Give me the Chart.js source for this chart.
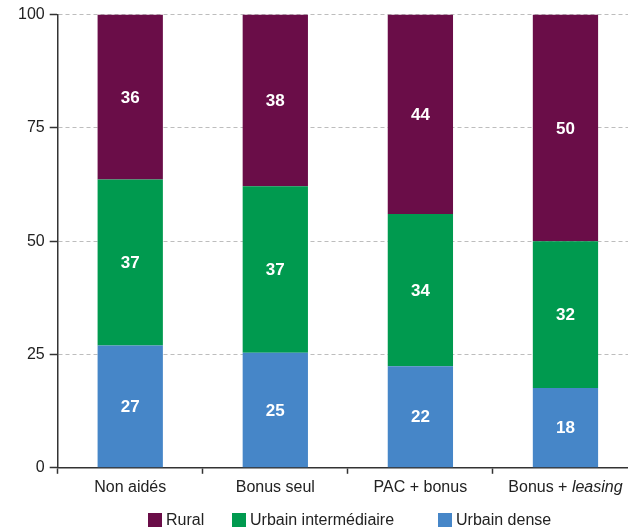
<!DOCTYPE html>
<html>
<head>
<meta charset="utf-8">
<script src="https://cdn.jsdelivr.net/npm/chart.js@4"></script>
<style>
    html, body { margin: 0; padding: 0; background: #fff; overflow: hidden; }
    #wrap { position: relative; width: 628px; height: 531px; overflow: hidden; }
    #chart { position: absolute; left: 0; top: 0; }
    .legend-item { position: absolute; top: 511px; font: 16px "Liberation Sans", Arial, sans-serif; color: #222; white-space: nowrap; line-height: 18px; }
    .legend-item span { display: inline-block; width: 14px; height: 14px; vertical-align: -2px; margin-right: 4px; }
</style>
</head>
<body>
<div id="wrap">
    <canvas id="chart" width="645" height="531"></canvas>
</div>
<script>
const categories = ['Non aidés', 'Bonus seul', 'PAC + bonus', 'Bonus + leasing'];
const italicWords = ['leasing'];
const urbainDense = [27.0, 25.4, 22.4, 17.6];
const urbainInter = [36.6, 36.7, 33.6, 32.4];
const rural = [36.4, 37.9, 44.0, 50.0];
const yTicks = [0, 25, 50, 75, 100];

const FONT = '"Liberation Sans", Arial, sans-serif';
const colors = { rural: '#6a0d48', inter: '#009a4f', dense: '#4686c8' };

// white value labels in the middle of each segment
const barLabels = {
    id: 'barLabels',
    afterDatasetsDraw(chart) {
        const ctx = chart.ctx;
        ctx.save();
        ctx.font = 'bold 17px ' + FONT;
        ctx.fillStyle = '#fff';
        ctx.textAlign = 'center';
        ctx.textBaseline = 'middle';
        chart.data.datasets.forEach((ds, i) => {
            chart.getDatasetMeta(i).data.forEach((bar, j) => {
                ctx.fillText(Math.round(ds.data[j]), bar.x, (bar.y + bar.base) / 2 + 1);
            });
        });
        ctx.restore();
    }
};

// category labels, with some words in italics
const xLabels = {
    id: 'xLabels',
    afterDraw(chart) {
        const scale = chart.scales.x;
        const ctx = chart.ctx;
        ctx.save();
        ctx.fillStyle = '#222';
        ctx.textAlign = 'left';
        ctx.textBaseline = 'alphabetic';
        categories.forEach((label, i) => {
            const parts = label.split(' ').map((w, k) => ({
                text: (k ? ' ' : '') + w,
                font: (italicWords.includes(w) ? 'italic ' : '') + '16px ' + FONT
            }));
            let total = 0;
            parts.forEach(p => { ctx.font = p.font; p.w = ctx.measureText(p.text).width; total += p.w; });
            let x = scale.getPixelForTick(i) - total / 2;
            const y = chart.chartArea.bottom + 24;
            parts.forEach(p => { ctx.font = p.font; ctx.fillText(p.text, x, y); x += p.w; });
        });
        ctx.restore();
    }
};

const ctx1 = document.getElementById('chart').getContext('2d');
const chart = new Chart(ctx1, {
    type: 'bar',
    data: {
        labels: categories,
        datasets: [
            { label: 'Urbain dense', data: urbainDense, backgroundColor: colors.dense },
            { label: 'Urbain intermédiaire', data: urbainInter, backgroundColor: colors.inter },
            { label: 'Rural', data: rural, backgroundColor: colors.rural }
        ]
    },
    options: {
        responsive: false,
        animation: false,
        devicePixelRatio: 1,
        layout: { padding: { left: 13, top: 14, right: 7, bottom: 30 } },
        datasets: { bar: { barPercentage: 0.45, categoryPercentage: 1 } },
        plugins: { legend: { display: false }, tooltip: { enabled: false } },
        scales: {
            x: {
                stacked: true,
                grid: { drawOnChartArea: false, drawTicks: true, tickLength: 6, tickColor: '#333', tickWidth: 1.5 },
                border: { color: '#333', width: 1.5 },
                ticks: { color: 'rgba(0,0,0,0)', font: { size: 16, family: FONT }, padding: 4 }
            },
            y: {
                stacked: true,
                min: 0,
                max: 100,
                afterBuildTicks: axis => { axis.ticks = yTicks.map(v => ({ value: v })); },
                grid: { color: '#bdbdbd', lineWidth: 1, tickLength: 8, tickColor: '#333', tickWidth: 1.5, tickBorderDash: [] },
                border: { color: '#333', width: 1.5, dash: [4, 3] },
                ticks: { color: '#222', font: { size: 16, family: FONT }, padding: 5 }
            }
        }
    },
    plugins: [barLabels, xLabels]
});

// legend below the chart
const legendItems = [
    { label: 'Rural', color: colors.rural, left: 148 },
    { label: 'Urbain intermédiaire', color: colors.inter, left: 232 },
    { label: 'Urbain dense', color: colors.dense, left: 438 }
];
const wrap = document.getElementById('wrap');
legendItems.forEach(item => {
    const el = document.createElement('div');
    el.className = 'legend-item';
    el.style.left = item.left + 'px';
    el.innerHTML = `<span style="background:${item.color}"></span>${item.label}`;
    wrap.appendChild(el);
});
</script>
</body>
</html>
